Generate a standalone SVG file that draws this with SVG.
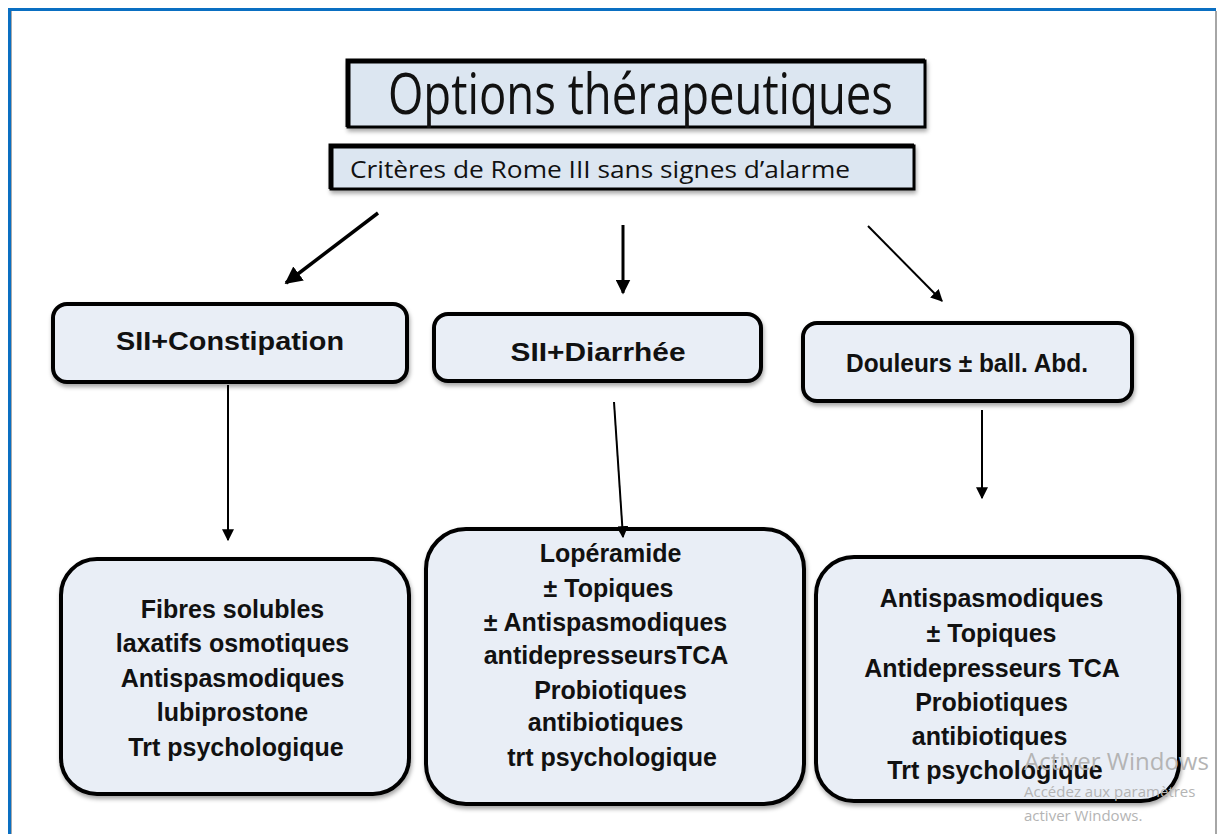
<svg xmlns="http://www.w3.org/2000/svg" width="1218" height="834" viewBox="0 0 1218 834">
<defs>
<marker id="ah" viewBox="0 0 10 10" refX="9" refY="5" markerWidth="5" markerHeight="5" orient="auto" markerUnits="strokeWidth">
<path d="M0,0 L10,5 L0,10 z" fill="#000"/>
</marker>
<marker id="ah2" viewBox="0 0 10 10" refX="9" refY="5" markerWidth="6" markerHeight="6" orient="auto" markerUnits="strokeWidth">
<path d="M0,0 L10,5 L0,10 z" fill="#000"/>
</marker>
<filter id="sh" x="-5%" y="-5%" width="115%" height="130%">
<feDropShadow dx="1" dy="3" stdDeviation="2" flood-color="#000" flood-opacity="0.35"/>
</filter>
</defs>
<style>
.node{fill:#e9eef6;stroke:#000;stroke-width:4}
.hdr{fill:#dce6f1;stroke:#000;stroke-width:3}
.lbl{font-family:"Liberation Sans",Arial,sans-serif;font-weight:bold;font-size:25px;fill:#111;text-anchor:middle}
.cal{font-family:"Open Sans","Noto Sans",sans-serif;fill:#111}
.wm{font-family:"Open Sans","Noto Sans",sans-serif;fill:#b4b4b4}
.arr{stroke:#000;fill:none}
</style>
<rect x="0" y="0" width="1218" height="834" fill="#fff"/>
<!-- frame -->
<path d="M9.5,834 L9.5,9.5 L1216,9.5" fill="none" stroke="#0a6fc2" stroke-width="3"/>
<line x1="11.5" y1="11" x2="11.5" y2="834" stroke="#aaa" stroke-width="1"/>
<line x1="1216" y1="11" x2="1216" y2="834" stroke="#888" stroke-width="1.5"/>

<g id="title">
<rect x="348" y="61" width="577" height="66" class="hdr" filter="url(#sh)"/>
<path d="M348,127 L348,61 L925,61" fill="none" stroke="#000" stroke-width="5"/>
<text x="388" y="114" class="cal" font-size="56" textLength="505" lengthAdjust="spacingAndGlyphs">Options thérapeutiques</text>
</g>

<g id="criteres">
<rect x="331" y="146" width="583" height="43" class="hdr" filter="url(#sh)"/>
<path d="M331,189 L331,146 L914,146" fill="none" stroke="#000" stroke-width="5"/>
<text x="350" y="178" class="cal" font-size="24" textLength="500" lengthAdjust="spacingAndGlyphs">Critères de Rome III sans signes d’alarme</text>
</g>

<g id="constipation">
<rect x="53" y="304" width="354" height="78" rx="14" class="node" filter="url(#sh)"/>
<text x="230" y="350" class="lbl" font-size="27" textLength="228" lengthAdjust="spacingAndGlyphs">SII+Constipation</text>
</g>

<g id="diarrhee">
<rect x="434" y="314" width="327" height="67" rx="14" class="node" filter="url(#sh)"/>
<text x="598" y="361" class="lbl" font-size="27" textLength="175" lengthAdjust="spacingAndGlyphs">SII+Diarrhée</text>
</g>

<g id="douleurs">
<rect x="803" y="323" width="329" height="78" rx="14" class="node" filter="url(#sh)"/>
<text x="967" y="372" class="lbl" font-size="27" textLength="242" lengthAdjust="spacingAndGlyphs">Douleurs ± ball. Abd.</text>
</g>

<g id="trt-constipation">
<rect x="61" y="559" width="348" height="235" rx="36" class="node" filter="url(#sh)"/>
<text class="lbl">
<tspan x="236" y="618">Fibres solubles</tspan>
<tspan x="236" y="652">laxatifs osmotiques</tspan>
<tspan x="236" y="687">Antispasmodiques</tspan>
<tspan x="236" y="721">lubiprostone</tspan>
<tspan x="236" y="756">Trt psychologique</tspan>
</text>
</g>

<g id="trt-diarrhee">
<rect x="426" y="529" width="378" height="275" rx="40" class="node" filter="url(#sh)"/>
<text class="lbl">
<tspan x="614" y="562">Lopéramide</tspan>
<tspan x="612" y="597">± Topiques</tspan>
<tspan x="609" y="631">± Antispasmodiques</tspan>
<tspan x="609" y="664">antidepresseursTCA</tspan>
<tspan x="614" y="699">Probiotiques</tspan>
<tspan x="609" y="731">antibiotiques</tspan>
<tspan x="612" y="766">trt psychologique</tspan>
</text>
</g>

<g id="trt-douleurs">
<rect x="816" y="557" width="363" height="244" rx="38" class="node" filter="url(#sh)"/>
<text class="lbl">
<tspan x="995" y="607">Antispasmodiques</tspan>
<tspan x="995" y="642">± Topiques</tspan>
<tspan x="995" y="677">Antidepresseurs TCA</tspan>
<tspan x="995" y="711">Probiotiques</tspan>
<tspan x="993" y="745">antibiotiques</tspan>
<tspan x="995" y="779">Trt psychologique</tspan>
</text>
</g>

<g id="connectors">
<line x1="378" y1="213" x2="286" y2="283" class="arr" stroke-width="3.5" marker-end="url(#ah)"/>
<line x1="623" y1="225" x2="623" y2="293" class="arr" stroke-width="3" marker-end="url(#ah)"/>
<line x1="868" y1="226" x2="942" y2="301" class="arr" stroke-width="2" marker-end="url(#ah2)"/>
<line x1="228" y1="385" x2="228" y2="540" class="arr" stroke-width="2" marker-end="url(#ah2)"/>
<line x1="614" y1="402" x2="623" y2="537" class="arr" stroke-width="2" marker-end="url(#ah2)"/>
<line x1="982" y1="410" x2="982" y2="498" class="arr" stroke-width="2" marker-end="url(#ah2)"/>
</g>

<g id="watermark">
<text x="1024" y="770" class="wm" font-size="24">Activer Windows</text>
<text x="1024" y="797" class="wm" font-size="15">Accédez aux paramètres</text>
<text x="1024" y="821" class="wm" font-size="15">activer Windows.</text>
</g>
</svg>
